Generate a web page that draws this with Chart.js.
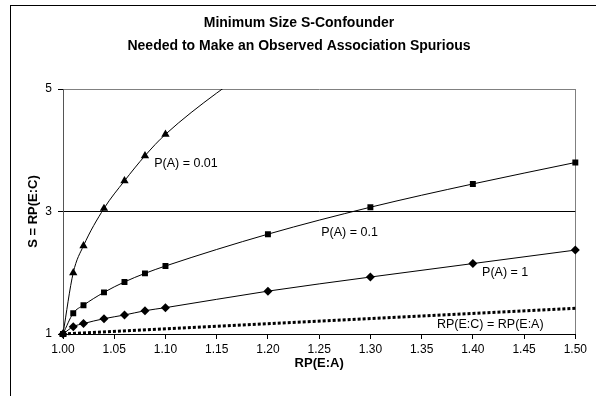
<!DOCTYPE html>
<html>
<head>
<meta charset="utf-8">
<script src="https://cdn.jsdelivr.net/npm/chart.js@4/dist/chart.umd.min.js"></script>
<style>
    html, body { margin: 0; padding: 0; background: #fff; overflow: hidden; }
    #frame { position: absolute; left: 10px; top: 5px; width: 620px; height: 420px; border-left: 1px solid #000; border-top: 1px solid #000; }
    #wrap { position: absolute; left: 0; top: 0; width: 590px; height: 396px; }
</style>
</head>
<body>
<div id="frame"></div>
<div id="wrap"><canvas id="confChart" width="590" height="396"></canvas></div>
<script>
// RP(E:A) values where the curves were computed
const rpEA = [1.00, 1.01, 1.02, 1.04, 1.06, 1.08, 1.10, 1.20, 1.30, 1.40, 1.50];
// minimum S = RP(E:C) (null = off the top of the plot)
const sPA001 = [1.00, 2.00, 2.44, 3.05, 3.50, 3.91, 4.26, 5.55, null, null, null];
const sPA01 = [1.00, 1.34, 1.47, 1.68, 1.85, 1.99, 2.11, 2.63, 3.07, 3.45, 3.80];
const sPA1 = [1.00, 1.12, 1.17, 1.25, 1.31, 1.38, 1.43, 1.70, 1.93, 2.15, 2.37];
// reference line RP(E:C) = RP(E:A)
const refX = [1.00, 1.50];
const refY = [1.00, 1.42];
const yTicks = [1, 3, 5];

const FONT = '"Liberation Sans", Arial, sans-serif';

// curve labels, anchored in data units
const curveLabels = [
    { text: "P(A) = 0.01", x: 1.089, y: 3.78 },
    { text: "P(A) = 0.1", x: 1.252, y: 2.65 },
    { text: "P(A) = 1", x: 1.409, y: 2.00 },
    { text: "RP(E:C) = RP(E:A)", x: 1.365, y: 1.15 }
];

function pts(xs, ys) {
    return xs.map((x, i) => ({ x: x, y: ys[i] }));
}

const labelPlugin = {
    id: "curveLabels",
    afterDatasetsDraw(chart) {
        const ctx = chart.ctx;
        const xs = chart.scales.x, ys = chart.scales.y;
        ctx.save();
        ctx.font = "12.5px " + FONT;
        ctx.fillStyle = "#000";
        ctx.textAlign = "left";
        ctx.textBaseline = "middle";
        curveLabels.forEach(l => {
            ctx.fillText(l.text, xs.getPixelForValue(l.x), ys.getPixelForValue(l.y));
        });
        ctx.restore();
    }
};

const clipBox = { left: 8, right: 8, top: 0, bottom: 8 };

function curve(label, ys, style, r) {
    return {
        label: label,
        data: pts(rpEA, ys),
        borderColor: "#000",
        borderWidth: 1,
        backgroundColor: "#000",
        pointStyle: style,
        pointRadius: r,
        pointBorderWidth: 0,
        pointBackgroundColor: "#000",
        cubicInterpolationMode: "monotone",
        spanGaps: false,
        clip: clipBox
    };
}

new Chart(document.getElementById("confChart"), {
    type: "line",
    data: {
        datasets: [
            {
                label: "RP(E:C) = RP(E:A)",
                data: pts(refX, refY),
                borderColor: "#000",
                borderWidth: 3,
                borderDash: [3, 2],
                pointRadius: 0,
                clip: clipBox
            },
            curve("P(A) = 1", sPA1, "rectRot", 4.5),
            curve("P(A) = 0.1", sPA01, "rect", 4.2),
            curve("P(A) = 0.01", sPA001, "triangle", 4.8)
        ]
    },
    options: {
        responsive: false,
        animation: false,
        devicePixelRatio: 1,
        layout: { padding: { left: 20, right: 12, top: 12, bottom: 25 } },
        plugins: {
            legend: { display: false },
            tooltip: { enabled: false },
            title: {
                display: true,
                text: ["Minimum Size S-Confounder", "Needed to Make an Observed Association Spurious"],
                color: "#000",
                font: { family: FONT, size: 14, weight: "bold", lineHeight: 1.643 },
                padding: { top: 0, bottom: 31 }
            }
        },
        scales: {
            x: {
                type: "linear",
                min: 1.0,
                max: 1.5,
                afterFit(s) { s.height = 37; },
                ticks: {
                    stepSize: 0.05,
                    color: "#000",
                    font: { family: FONT, size: 12 },
                    padding: 3,
                    maxRotation: 0,
                    callback: v => v.toFixed(2)
                },
                grid: {
                    color: c => (c.tick && Math.abs(c.tick.value - 1.5) < 1e-6) ? "#808080" : "rgba(0,0,0,0)",
                    tickColor: "#000",
                    tickLength: 5,
                    lineWidth: 1
                },
                border: { color: "#000", width: 1 },
                title: {
                    display: true,
                    text: "RP(E:A)",
                    color: "#000",
                    font: { family: FONT, size: 13, weight: "bold" },
                    padding: { top: 4, bottom: 0 }
                }
            },
            y: {
                min: 1,
                max: 5,
                afterFit(s) { s.width = 43; },
                afterBuildTicks(s) { s.ticks = yTicks.map(v => ({ value: v })); },
                ticks: {
                    color: "#000",
                    font: { family: FONT, size: 12 },
                    padding: 6
                },
                grid: {
                    color: c => {
                        if (!c.tick) return "rgba(0,0,0,0)";
                        if (c.tick.value === 5) return "#808080";
                        if (c.tick.value === 3) return "#000";
                        return "rgba(0,0,0,0)";
                    },
                    tickColor: "#000",
                    tickLength: 5,
                    lineWidth: 1
                },
                border: { color: "#555", width: 1 },
                title: {
                    display: true,
                    text: "S = RP(E:C)",
                    color: "#000",
                    font: { family: FONT, size: 13, weight: "bold" },
                    padding: { top: 6, bottom: 0 }
                }
            }
        }
    },
    plugins: [labelPlugin]
});
</script>
</body>
</html>
